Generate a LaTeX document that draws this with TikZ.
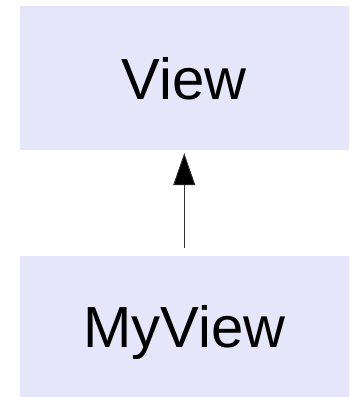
\documentclass[tikz,border=0pt]{standalone}
\usepackage{fontspec}
\setmainfont{Liberation Sans}
\usetikzlibrary{arrows.meta}
\definecolor{boxfill}{RGB}{230,230,250}
\definecolor{linegray}{RGB}{51,51,51}
\tikzset{
  classbox/.style={fill=boxfill, draw=none, inner sep=0pt, minimum width=329.5pt, text depth=0pt, font=\fontsize{58}{60}\selectfont},
  inherit/.style={draw=linegray, line width=0.9pt, -{Triangle[length=32pt,width=22pt,fill=black]}}
}
\begin{document}
\begin{tikzpicture}[x=1pt,y=1pt]
\useasboundingbox (0,0) rectangle (349,-397);
\node[classbox, minimum height=144pt] (view) at (184.25,-78) {View};
\node[classbox, minimum height=141pt] (myview) at (184.25,-326.5) {MyView};
\draw[inherit, shorten <=8pt, shorten >=3pt] (myview.north) -- (view.south);
\end{tikzpicture}
\end{document}
